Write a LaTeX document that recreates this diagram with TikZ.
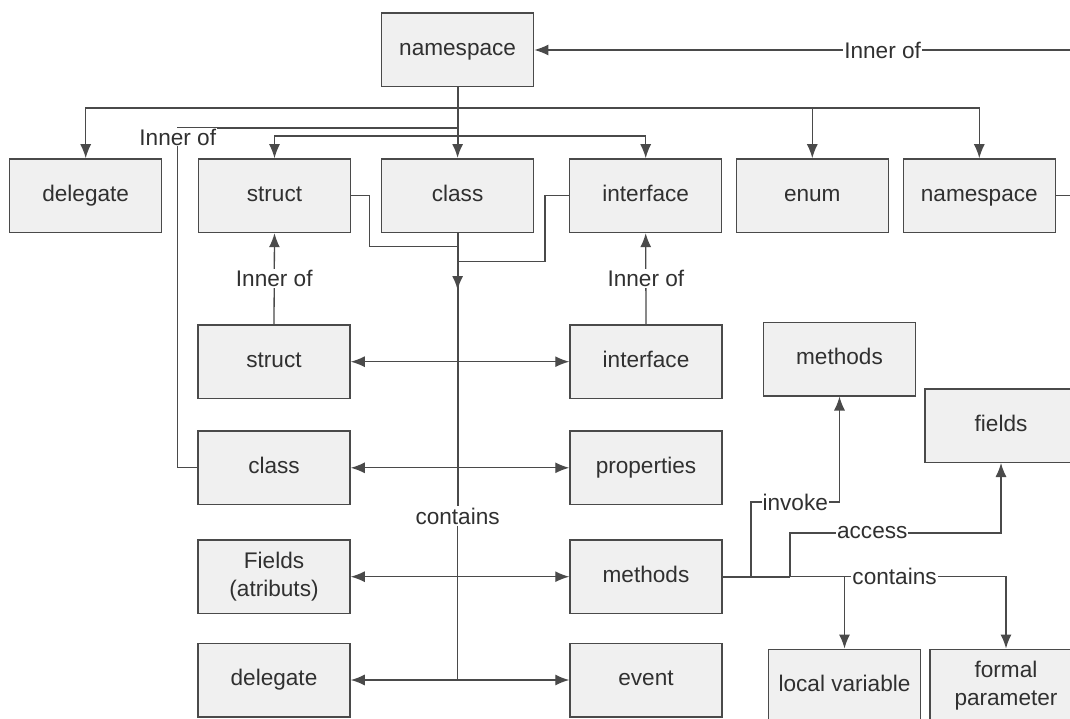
\documentclass[tikz,border=0pt]{standalone}
\usepackage{fontspec}
\setmainfont{Liberation Sans}
\usetikzlibrary{arrows.meta, positioning}
\definecolor{boxfill}{HTML}{F0F0F0}
\definecolor{boxline}{HTML}{4A4A4A}
\definecolor{txt}{HTML}{303030}

\begin{document}
\begin{tikzpicture}[x=1pt,y=-1pt,
 line width=1.3pt,color=boxline,
 box/.style={rectangle,draw=boxline,fill=boxfill,line width=1.5pt,
  minimum width=152pt,minimum height=73.5pt,inner sep=2pt,align=center,
  text height=16pt,text depth=5pt,
  text=txt,font=\fontsize{22.6}{28}\selectfont},
 two/.style={text height={},text depth={}},
 lbl/.style={fill=white,inner sep=1pt,text=txt,font=\fontsize{22.6}{28}\selectfont},
 arr/.style={-{Latex[length=14pt,width=11pt]}},
 both/.style={{Latex[length=14pt,width=11pt]}-{Latex[length=14pt,width=11pt]}},
 trunk/.style={line width=2.2pt}]
  \useasboundingbox[fill=white] (0,0) rectangle (1070,719);

  \node[box] (ns1) at (457.6,50) {namespace};
  \node[box] (dlg1) at (85.7,195.7) {delegate};
  \node[box] (st1) at (274.5,195.7) {struct};
  \node[box] (cl1) at (457.6,195.7) {class};
  \node[box] (if1) at (645.7,195.7) {interface};
  \node[box] (en) at (812.3,195.7) {enum};
  \node[box] (ns2) at (979.3,195.7) {namespace};

  \node[box] (st2) at (274,361.7) {struct};
  \node[box] (if2) at (646,361.7) {interface};
  \node[box] (cl2) at (274,467.8) {class};
  \node[box] (prop) at (646,467.8) {properties};
  \node[box,two] (fld) at (274,576.7) {Fields\\(atributs)};
  \node[box] (meth) at (646,576.7) {methods};
  \node[box] (dlg2) at (274,680) {delegate};
  \node[box] (ev) at (646,680) {event};

  \node[box] (meth2) at (839.5,359) {methods};
  \node[box] (fld2) at (1001,425.5) {fields};
  \node[box] (locv) at (844.5,686) {local variable};
  \node[box,two] (fpar) at (1006,686) {formal\\parameter};

  \node[lbl] (ctn) at (457.6,516) {contains};

  \coordinate (b1) at (457.6,108);
  \coordinate (b2) at (457.6,136);
  \coordinate (b3) at (457.6,128);

  % namespace level
  \draw[arr] (ns2.east) -- ++(40,0) |- node[lbl,pos=0.69] {Inner of} (ns1.east);
  \draw[trunk,arr] (ns1.south) -- (cl1.north);
  \foreach \t in {dlg1,en,ns2} {
   \draw[arr] (b1) -| (\t.north);}
  \foreach \t in {st1,if1} {
   \draw[arr] (b2) -| (\t.north);}
  \draw (cl2.west) -- ++(-19.5,0) |- node[lbl,pos=0.5,yshift=-9pt] {Inner of} (b3);

  % inner types
  \draw[arr] (st2.north) -- node[lbl] {Inner of} (st1.south);
  \draw[arr] (if2.north) -- node[lbl] {Inner of} (if1.south);
  \draw (st1.east) -- ++(18.5,0) |- (457.6,246.7);
  \draw (if1.west) -- ++(-24,0) |- (457.6,261.7);

  % class contains
  \draw[trunk] (cl1.south) -- (ctn.north);
  \draw[trunk,arr] (cl1.south) -- ++(0,57);
  \draw (ctn.south) -- (ctn.south |- dlg2.east);
  \foreach \l/\r in {st2/if2, cl2/prop, fld/meth, dlg2/ev} {
   \draw[both] (\l.east) -- (\r.west);}

  % methods
  \draw[trunk] (meth.east) -- (790,576.7);
  \draw[arr] (meth.east) -| (locv.north);
  \draw[arr] (751,576.7) -- (751,502) -- node[lbl] {invoke} (meth2.south |- 0,502) -- (meth2.south);
  \draw[arr] (790,576.7) -- (790,533) -- node[lbl,pos=0.39] {access} (fld2.south |- 0,533) -- (fld2.south);
  \draw[arr] (locv.north |- meth.east) -- node[lbl,pos=0.31] {contains} (fpar.north |- meth.east) -- (fpar.north);
 \end{tikzpicture}
\end{document}
